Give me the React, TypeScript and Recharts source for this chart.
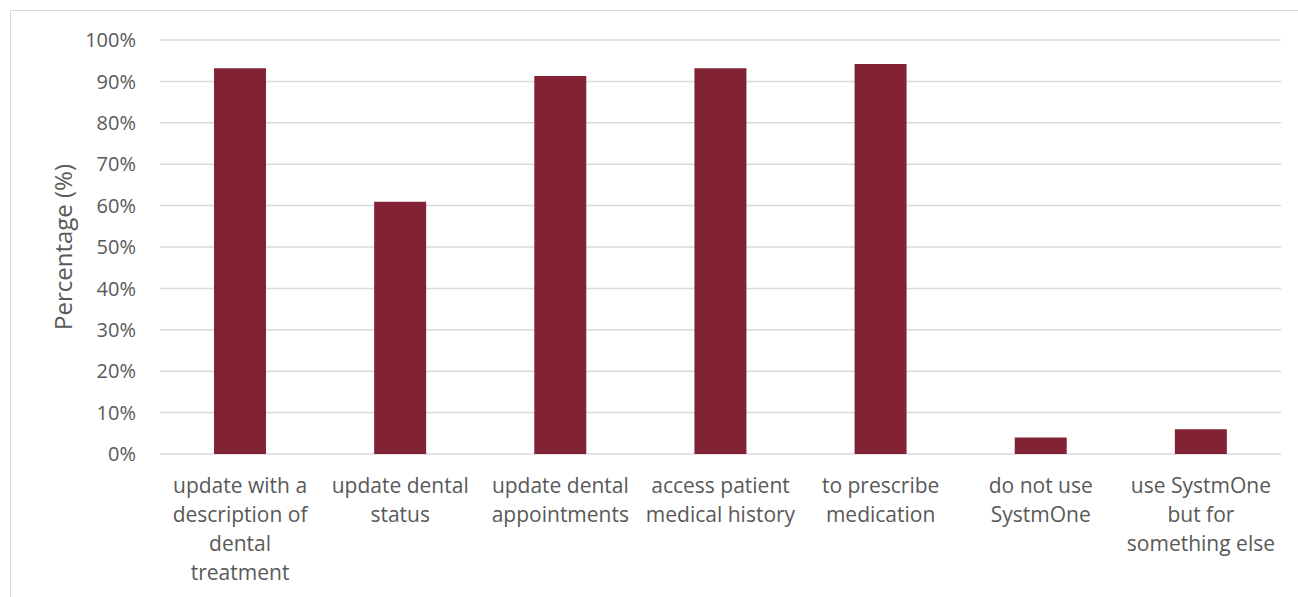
import React from 'react';
import { BarChart, Bar, XAxis, YAxis, CartesianGrid } from 'recharts';

const categories: string[] = [
  'update with a\ndescription of\ndental\ntreatment',
  'update dental\nstatus',
  'update dental\nappointments',
  'access patient\nmedical history',
  'to prescribe\nmedication',
  'do not use\nSystmOne',
  'use SystmOne\nbut for\nsomething else',
];
const percentages: number[] = [93.2, 60.9, 91.3, 93.2, 94.2, 4.0, 6.0];
const yTicks: number[] = [0, 10, 20, 30, 40, 50, 60, 70, 80, 90, 100];
const yAxisTitle = 'Percentage (%)';

const data = categories.map((c, i) => ({ category: c, value: percentages[i] }));

const FONT = '"Open Sans", sans-serif';
const TEXT = '#595959';

const CategoryTick = (props: any) => {
  const { x, y, payload } = props;
  const lines = String(payload.value).split('\n');
  return (
    <text x={x} y={y} textAnchor="middle" fill={TEXT} fontFamily={FONT} fontSize={21}>
      {lines.map((l, i) => (
        <tspan key={i} x={x} dy={i === 0 ? 31 : 29}>
          {l}
        </tspan>
      ))}
    </text>
  );
};

export default function App() {
  return (
    <div style={{ position: 'fixed', left: 0, top: 0, width: 1298, height: 597, overflow: 'hidden', background: '#fff' }}>
      <div
        style={{
          position: 'absolute',
          left: 10,
          top: 10,
          width: 1300,
          height: 600,
          borderLeft: '1px solid #d9d9d9',
          borderTop: '1px solid #d9d9d9',
          boxSizing: 'border-box',
        }}
      />
      <div style={{ position: 'absolute', left: 0, top: 0 }}>
        <BarChart
          width={1298}
          height={597}
          data={data}
          margin={{ top: 40, right: 17, bottom: 0, left: 0 }}
          barSize={52}
        >
          <CartesianGrid vertical={false} stroke="#d9d9d9" strokeWidth={1.5} />
          <XAxis
            dataKey="category"
            axisLine={false}
            tickLine={false}
            interval={0}
            height={143}
            tick={<CategoryTick />}
          />
          <YAxis
            domain={[0, 100]}
            ticks={yTicks}
            interval={0}
            axisLine={false}
            tickLine={false}
            width={160}
            tickMargin={18}
            tickFormatter={(v: number) => `${v}%`}
            tick={{ fill: TEXT, fontFamily: FONT, fontSize: 20 }}
            label={{
              value: yAxisTitle,
              angle: -90,
              position: 'center',
              dx: -17,
              fill: TEXT,
              fontFamily: FONT,
              fontSize: 24,
            }}
          />
          <Bar dataKey="value" fill="#812334" isAnimationActive={false} />
        </BarChart>
      </div>
    </div>
  );
}
